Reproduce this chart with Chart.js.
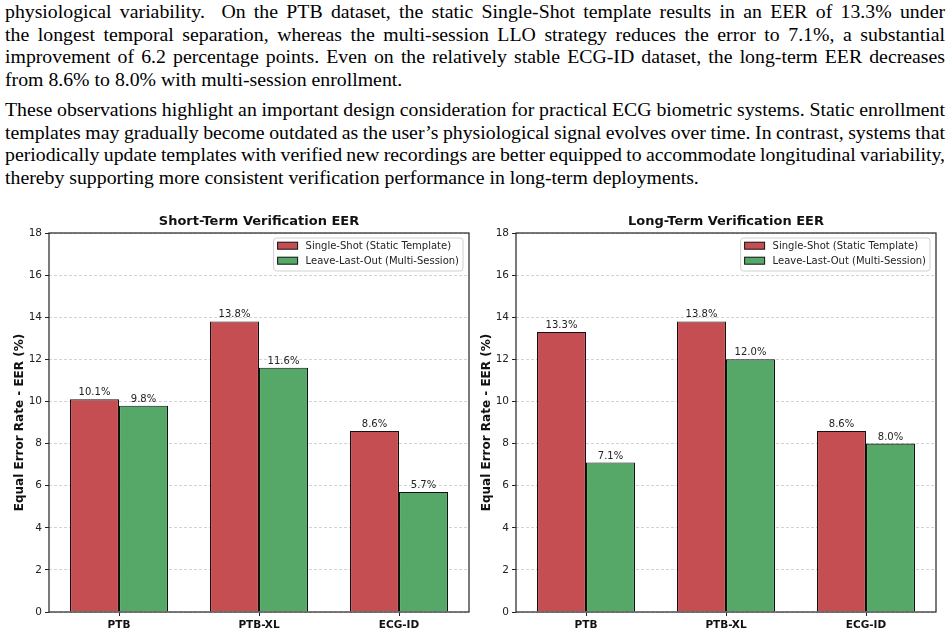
<!DOCTYPE html>
<html>
<head>
<meta charset="utf-8">
<script src="https://cdn.jsdelivr.net/npm/chart.js@4.4.1/dist/chart.umd.min.js"></script>
<style>
  html, body { margin: 0; padding: 0; background: #fff; width: 951px; height: 635px; overflow: hidden; }
  .para { position: absolute; left: 5px; width: 940px; font-family: 'Liberation Serif', 'Times New Roman', serif;
          font-size: 19.8px; line-height: 22.5px; color: #000; }
  .j { text-align: justify; text-align-last: justify; white-space: nowrap; word-spacing: -2.5px; }
  .l { text-align: left; white-space: nowrap; }
  canvas { position: absolute; }
</style>
</head>
<body>
<div class="para" style="top:0px">
  <div class="j">physiological variability. &nbsp;On the PTB dataset, the static Single-Shot template results in an EER of 13.3% under</div>
  <div class="j">the longest temporal separation, whereas the multi-session LLO strategy reduces the error to 7.1%, a substantial</div>
  <div class="j">improvement of 6.2 percentage points. Even on the relatively stable ECG-ID dataset, the long-term EER decreases</div>
  <div class="l">from 8.6% to 8.0% with multi-session enrollment.</div>
</div>
<div class="para" style="top:98px">
  <div class="j">These observations highlight an important design consideration for practical ECG biometric systems. Static enrollment</div>
  <div class="j">templates may gradually become outdated as the user’s physiological signal evolves over time. In contrast, systems that</div>
  <div class="j">periodically update templates with verified new recordings are better equipped to accommodate longitudinal variability,</div>
  <div class="l">thereby supporting more consistent verification performance in long-term deployments.</div>
</div>
<canvas id="c1" width="470" height="430" style="left:0px; top:205px"></canvas>
<canvas id="c2" width="470" height="430" style="left:467px; top:205px"></canvas>
<script>
const categories = ['PTB', 'PTB-XL', 'ECG-ID'];
const seriesNames = ['Single-Shot (Static Template)', 'Leave-Last-Out (Multi-Session)'];
const shortTermSingleShot = [10.1, 13.8, 8.6];
const shortTermLeaveLastOut = [9.8, 11.6, 5.7];
const longTermSingleShot = [13.3, 13.8, 8.6];
const longTermLeaveLastOut = [7.1, 12.0, 8.0];
const yTicks = [0, 2, 4, 6, 8, 10, 12, 14, 16, 18];
const chartTitles = ['Short-Term Verification EER', 'Long-Term Verification EER'];
const yAxisTitle = 'Equal Error Rate - EER (%)';

const RED = '#C44E52';
const GREEN = '#55A868';
const FONT = "'DejaVu Sans', sans-serif";

const framePlugin = {
  id: 'frame',
  afterDatasetsDraw(chart) {
    const a = chart.chartArea, ctx = chart.ctx;
    ctx.save();
    ctx.strokeStyle = '#222';
    ctx.lineWidth = 1.2;
    ctx.strokeRect(a.left, a.top, a.right - a.left, a.bottom - a.top);
    ctx.restore();
  }
};

const valueLabelPlugin = {
  id: 'valueLabels',
  afterDatasetsDraw(chart) {
    const ctx = chart.ctx;
    ctx.save();
    ctx.font = '10px ' + FONT;
    ctx.fillStyle = '#222';
    ctx.textAlign = 'center';
    ctx.textBaseline = 'alphabetic';
    chart.data.datasets.forEach((ds, di) => {
      const meta = chart.getDatasetMeta(di);
      meta.data.forEach((bar, i) => {
        ctx.fillText(ds.data[i].toFixed(1) + '%', bar.x, bar.y - 4);
      });
    });
    ctx.restore();
  }
};

const legendPlugin = {
  id: 'innerLegend',
  afterDatasetsDraw(chart) {
    const a = chart.chartArea, ctx = chart.ctx;
    ctx.save();
    ctx.font = '10px ' + FONT;
    const widths = chart.data.datasets.map(d => ctx.measureText(d.label).width);
    const tw = Math.max(...widths);
    const w = 4 + 20 + 8 + tw + 4;
    const h = 33;
    const x = a.right - 6 - w;
    const y = a.top + 5;
    ctx.beginPath();
    ctx.roundRect(x, y, w, h, 3);
    ctx.fillStyle = 'rgba(255,255,255,0.85)';
    ctx.fill();
    ctx.strokeStyle = '#d0d0d0';
    ctx.lineWidth = 1;
    ctx.stroke();
    chart.data.datasets.forEach((d, i) => {
      const cy = y + 7.7 + i * 15;
      ctx.fillStyle = d.backgroundColor;
      ctx.fillRect(x + 4, cy - 3.5, 20, 7);
      ctx.strokeStyle = '#111';
      ctx.lineWidth = 1;
      ctx.strokeRect(x + 4, cy - 3.5, 20, 7);
      ctx.fillStyle = '#222';
      ctx.textAlign = 'left';
      ctx.textBaseline = 'middle';
      ctx.fillText(d.label, x + 32, cy + 0.5);
    });
    ctx.restore();
  }
};

function makeChart(id, title, single, llo) {
  return new Chart(document.getElementById(id), {
    type: 'bar',
    data: {
      labels: categories,
      datasets: [
        { label: seriesNames[0], data: single, backgroundColor: RED, borderColor: '#111', borderWidth: 1.1,
          categoryPercentage: 0.7, barPercentage: 1.0 },
        { label: seriesNames[1], data: llo, backgroundColor: GREEN, borderColor: '#111', borderWidth: 1.1,
          categoryPercentage: 0.7, barPercentage: 1.0 }
      ]
    },
    options: {
      responsive: false,
      animation: false,
      devicePixelRatio: 1,
      layout: { padding: { top: 5, right: 1, left: 0, bottom: 0 } },
      plugins: {
        legend: { display: false },
        tooltip: { enabled: false },
        title: {
          display: true, text: title, color: '#111', fullSize: false,
          font: { family: FONT, size: 13, weight: 'bold', lineHeight: 1.2 },
          padding: { top: 4.2, bottom: 3.2 }
        }
      },
      scales: {
        x: {
          afterFit(scale) { scale.height = 23; },
          grid: { display: true, drawOnChartArea: false, drawTicks: true, offset: false, tickLength: 4,
                  color: '#222', tickColor: '#222', lineWidth: 1 },
          border: { display: false },
          ticks: { color: '#111', padding: 3, font: { family: FONT, size: 10.5, weight: 'bold' } }
        },
        y: {
          min: 0, max: 18,
          afterFit(scale) { scale.width = 49; },
          afterBuildTicks(scale) { scale.ticks = yTicks.map(v => ({ value: v })); },
          grid: { display: true, drawOnChartArea: true, drawTicks: true, tickLength: 4,
                  color: '#c8c8c8', lineWidth: 0.8, tickColor: '#222', tickWidth: 1, tickBorderDash: [] },
          border: { display: false, dash: [3, 2] },
          ticks: { color: '#222', padding: 3, font: { family: FONT, size: 10.5 } },
          title: { display: true, text: yAxisTitle, color: '#111',
                   font: { family: FONT, size: 12, weight: 'bold', lineHeight: 1.2 },
                   padding: { top: 13, bottom: 0 } }
        }
      }
    },
    plugins: [framePlugin, valueLabelPlugin, legendPlugin]
  });
}

makeChart('c1', chartTitles[0], shortTermSingleShot, shortTermLeaveLastOut);
makeChart('c2', chartTitles[1], longTermSingleShot, longTermLeaveLastOut);
</script>
</body>
</html>
